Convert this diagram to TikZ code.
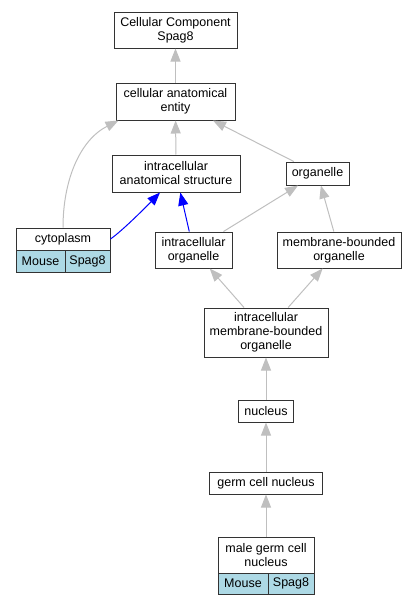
\documentclass[tikz,border=0pt]{standalone}
\usepackage{fontspec}
\setmainfont{Liberation Sans}
\usetikzlibrary{arrows.meta}
\usetikzlibrary{positioning}
\definecolor{egrey}{rgb}{0.75, 0.75, 0.75}
\definecolor{lblue}{rgb}{0.68, 0.85, 0.9}
\tikzset{term/.style = {draw=black!80, line width=1pt, fill=white, align=center,
                        inner sep=0pt, font=\fontsize{12.5}{14}\selectfont}}
\tikzset{cell/.style = {term, fill=lblue}}
\tikzset{isa/.style = {draw=egrey, line width=1pt, -{Triangle[length=13pt, width=10pt]}}}
\tikzset{partof/.style = {draw=blue, line width=1pt, -{Triangle[length=13pt, width=10pt]}}}

\begin{document}
\begin{tikzpicture}[x=1pt, y=-1pt]
    \useasboundingbox (0, 0) rectangle (416, 605);

    \node [term, minimum width=123, minimum height=36] (ccs) at (175.5, 30) {Cellular Component\\Spag8};
    \node [term, minimum width=119, minimum height=37] (cae) at (175.5, 101.5) {cellular anatomical\\entity};
    \node [term, minimum width=128, minimum height=37] (ias) at (176, 173.5) {intracellular\\anatomical structure};
    \node [term, minimum width=63, minimum height=23] (org) at (317.5, 173.5) {organelle};

    \node [term, minimum width=94, minimum height=22] (cyto) at (63, 239) {cytoplasm};
    \node [cell, minimum width=49, minimum height=22] (cytom) at (40.5, 261) {Mouse};
    \node [cell, minimum width=45, minimum height=22] (cytos) at (87.5, 261) {Spag8};

    \node [term, minimum width=77, minimum height=36] (io) at (193.5, 250) {intracellular\\organelle};
    \node [term, minimum width=124, minimum height=36] (mbo) at (339, 250) {membrane-bounded\\organelle};
    \node [term, minimum width=124, minimum height=49] (imbo) at (266, 332.5) {intracellular\\membrane-bounded\\organelle};
    \node [term, minimum width=55, minimum height=22] (nuc) at (266, 411) {nucleus};
    \node [term, minimum width=113, minimum height=22] (gcn) at (266, 483) {germ cell nucleus};

    \node [term, minimum width=96, minimum height=36] (mgcn) at (266, 555) {male germ cell\\nucleus};
    \node [cell, minimum width=50, minimum height=21] (mgcnm) at (243, 583.5) {Mouse};
    \node [cell, minimum width=46, minimum height=21] (mgcns) at (291, 583.5) {Spag8};

    \draw [isa] (cae) -- (ccs);
    \draw [isa] (ias) -- (cae);
    \draw [isa] (org) -- (cae);
    \draw [isa] (cyto.north) .. controls (63, 180) and (80, 140) .. ([xshift=3pt]cae.south west);
    \draw [partof] (cyto.east) .. controls (122, 231) and (145, 208) .. ([xshift=-16pt]ias.south);
    \draw [partof] (io) -- (ias);
    \draw [isa] (io) -- (org);
    \draw [isa] (mbo) -- (org);
    \draw [isa] (imbo) -- (io);
    \draw [isa] (imbo) -- (mbo);
    \draw [isa] (nuc) -- (imbo);
    \draw [isa] (gcn) -- (nuc);
    \draw [isa] (mgcn) -- (gcn);
\end{tikzpicture}
\end{document}
